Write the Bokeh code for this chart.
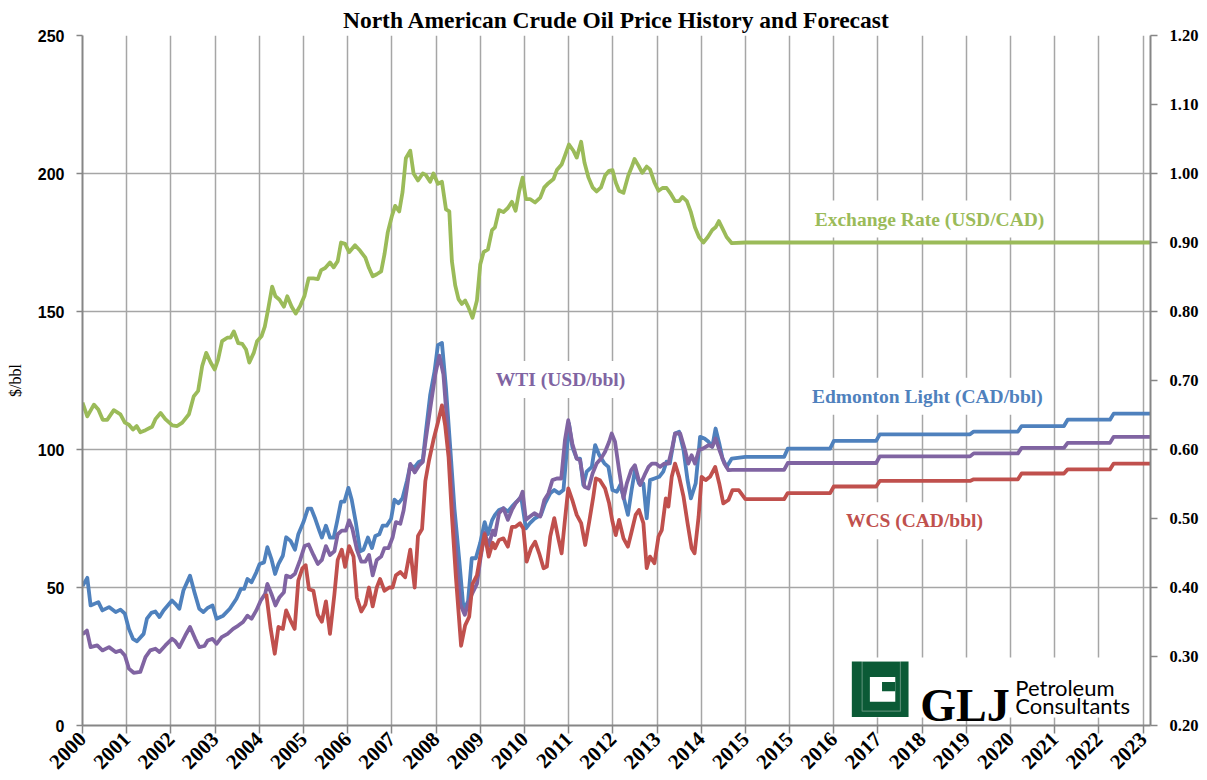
import math
from bokeh.plotting import figure
from bokeh.models import (Range1d, LinearAxis, FixedTicker, PrintfTickFormatter,
                          Label, BoxAnnotation)
from bokeh.embed import file_html
from bokeh.resources import INLINE

# ---------------- data ----------------
TITLE = "North American Crude Oil Price History and Forecast"
x_tick_labels = ["2000", "2001", "2002", "2003", "2004", "2005", "2006", "2007",
                 "2008", "2009", "2010", "2011", "2012", "2013", "2014", "2015",
                 "2015", "2016", "2017", "2018", "2019", "2020", "2021", "2022", "2023"]
months_per_label = 12

# history: x = month index from the first point, y = value
fx_hist_x = [0, 1.3, 3.1, 4.3, 5.5, 6.7, 8.5, 10.3, 11.5, 12.6, 13.7, 14.7, 15.7, 17.1, 18.9,
             19.8, 21.2, 22.5, 24.4, 25.7, 27.1, 28.9, 30.2, 31.4, 32.5, 33.6, 34.8, 35.9, 36.8,
             37.9, 39.3, 40.2, 41.1, 42.3, 43.4, 44.4, 45.3, 46.5, 47.4, 48.6, 49.5, 50.4, 51.5,
             52.4, 53.5, 54.7, 55.6, 56.8, 57.9, 59.1, 60.3, 61.4, 62.7, 63.9, 64.8, 65.9, 67.2,
             68.2, 69.3, 70.2, 71.3, 72.4, 74.0, 75.4, 76.8, 77.8, 78.8, 79.9, 81.1, 82.0, 82.9,
             84.0, 84.9, 86.0, 86.9, 87.8, 89.0, 89.9, 91.1, 92.4, 93.2, 94.4, 95.3, 96.5, 97.6,
             98.7, 99.6, 100.3, 101.2, 102.1, 103.0, 103.9, 104.8, 105.9, 107.1, 108.0, 108.9,
             110.1, 111.2, 112.0, 113.1, 114.3, 115.5, 116.6, 117.6, 118.6, 119.5, 120.4, 121.5,
             122.9, 124.3, 125.4, 126.5, 127.9, 128.8, 130.1, 131.0, 132.1, 133.3, 134.2, 135.4,
             136.3, 137.4, 138.5, 139.6, 140.8, 141.9, 143.0, 143.9, 144.8, 145.7, 146.9, 148.2,
             149.1, 149.9, 151.0, 152.0, 153.2, 154.1, 155.3, 156.4, 157.5, 158.6, 159.8, 160.9,
             162.0, 162.9, 164.1, 165.2, 166.3, 167.4, 168.6, 169.8, 171.0, 171.9, 172.8, 173.8,
             174.9, 176.3]
fx_hist_y = [0.668, 0.648, 0.665, 0.658, 0.643, 0.643, 0.657, 0.651, 0.639, 0.636, 0.629, 0.634,
             0.625, 0.628, 0.633, 0.644, 0.653, 0.644, 0.635, 0.634, 0.639, 0.651, 0.677, 0.685,
             0.721, 0.740, 0.726, 0.716, 0.730, 0.757, 0.762, 0.762, 0.771, 0.754, 0.753, 0.745,
             0.726, 0.740, 0.757, 0.764, 0.778, 0.803, 0.836, 0.822, 0.817, 0.807, 0.822, 0.807,
             0.797, 0.808, 0.823, 0.848, 0.848, 0.847, 0.860, 0.863, 0.871, 0.864, 0.873, 0.900,
             0.898, 0.886, 0.896, 0.888, 0.878, 0.863, 0.851, 0.854, 0.858, 0.883, 0.915, 0.938,
             0.953, 0.945, 0.973, 1.022, 1.033, 1.000, 0.990, 1.000, 0.998, 0.988, 1.000, 0.985,
             0.988, 0.948, 0.945, 0.873, 0.838, 0.818, 0.811, 0.816, 0.806, 0.791, 0.816, 0.868,
             0.886, 0.890, 0.918, 0.922, 0.947, 0.944, 0.950, 0.959, 0.946, 0.975, 0.994, 0.963,
             0.963, 0.958, 0.965, 0.980, 0.986, 0.992, 1.005, 1.013, 1.026, 1.042, 1.033, 1.023,
             1.046, 1.016, 0.994, 0.980, 0.974, 0.980, 0.997, 1.004, 1.005, 0.987, 0.975, 0.972,
             0.997, 1.009, 1.021, 1.011, 1.001, 1.010, 1.006, 0.987, 0.975, 0.979, 0.979, 0.970,
             0.960, 0.960, 0.966, 0.960, 0.944, 0.922, 0.908, 0.900, 0.908, 0.918, 0.922, 0.931,
             0.920, 0.908, 0.899]

edm_hist_x = [0, 1.3, 2.2, 4.3, 5.4, 7.2, 9.0, 10.3, 11.5, 12.6, 13.7, 14.8, 16.6, 17.5, 18.7,
              19.8, 20.9, 22.0, 24.3, 25.2, 26.3, 27.4, 29.2, 30.4, 31.7, 32.8, 34.0, 35.3, 36.4,
              38.2, 40.0, 41.8, 43.0, 43.9, 44.8, 45.9, 47.2, 48.1, 49.3, 50.2, 51.3, 52.3, 53.2,
              54.4, 55.3, 56.5, 57.7, 58.6, 60.0, 61.2, 62.1, 63.2, 64.3, 65.0, 66.1, 67.2, 68.2,
              69.1, 70.2, 71.1, 72.2, 73.1, 74.2, 75.4, 76.3, 77.5, 78.6, 79.5, 80.6, 81.5, 82.6,
              83.8, 84.7, 85.8, 86.9, 88.1, 89.0, 90.2, 91.3, 92.4, 93.2, 94.4, 95.6, 96.5, 97.6,
              98.7, 99.9, 101.0, 102.3, 103.5, 104.7, 105.7, 106.8, 108.0, 109.2, 110.1, 111.2,
              112.0, 113.1, 114.3, 115.5, 116.6, 117.9, 119.1, 120.4, 121.5, 122.9, 124.5, 125.6,
              127.0, 128.1, 129.4, 130.6, 131.5, 132.1, 133.0, 134.2, 135.1, 136.0, 136.9, 138.3,
              139.2, 140.3, 141.7, 142.8, 143.9, 145.1, 146.0, 146.9, 148.1, 149.1, 150.0, 151.1,
              152.3, 153.2, 154.1, 155.3, 156.6, 157.7, 158.6, 159.5, 160.9, 162.0, 163.2, 164.3,
              165.2, 166.5, 167.7, 168.9, 170.0, 171.0, 171.9, 172.9, 173.8, 174.9, 176.3]
edm_hist_y = [50.5, 53.5, 43.5, 44.7, 41.7, 42.9, 41.1, 42.0, 40.5, 35.0, 31.4, 30.5, 33.2, 38.7,
              40.8, 41.3, 39.3, 41.7, 45.3, 44.1, 42.3, 48.9, 54.3, 48.3, 42.3, 41.1, 42.6, 43.5,
              38.7, 39.8, 42.3, 45.9, 49.5, 49.5, 53.1, 51.9, 55.5, 58.5, 59.1, 64.6, 60.3, 54.9,
              58.5, 61.5, 68.2, 66.9, 63.7, 69.3, 73.7, 78.6, 78.6, 74.9, 70.6, 68.1, 72.4, 68.1,
              68.1, 73.7, 81.1, 81.1, 86.1, 81.8, 73.7, 63.1, 63.7, 68.1, 64.3, 68.7, 69.3, 72.4,
              72.4, 74.9, 81.8, 80.5, 82.4, 88.6, 94.2, 93.6, 95.5, 96.1, 106.0, 119.7, 128.4,
              137.8, 138.6, 122.2, 99.8, 78.6, 60.0, 41.5, 45.1, 60.6, 60.6, 66.2, 73.7, 69.3,
              74.3, 76.3, 78.1, 78.7, 77.5, 79.3, 81.1, 82.9, 71.4, 73.3, 75.1, 76.3, 80.5, 84.1,
              85.3, 84.1, 85.3, 99.8, 109.4, 101.0, 96.7, 96.7, 87.1, 92.0, 93.7, 101.6, 98.0,
              95.0, 93.7, 85.3, 84.7, 87.1, 82.9, 76.3, 85.3, 92.5, 87.7, 87.7, 75.1, 88.9, 89.5,
              90.1, 92.0, 95.6, 95.0, 105.8, 106.4, 99.8, 88.9, 82.3, 87.7, 104.6, 104.0, 102.8,
              101.0, 107.6, 102.2, 96.7, 93.7, 96.7]

wti_hist_x = [0, 1.2, 2.2, 4.0, 5.4, 7.2, 9.0, 10.3, 11.5, 12.6, 13.9, 15.7, 17.1, 18.4, 19.8,
              20.9, 22.5, 24.3, 25.2, 26.3, 27.9, 29.2, 30.6, 31.7, 33.1, 34.0, 35.3, 36.4, 37.8,
              39.4, 40.9, 42.3, 43.6, 44.8, 45.9, 47.2, 48.4, 49.6, 50.2, 51.3, 52.4, 53.5, 54.7,
              55.3, 56.5, 57.7, 59.1, 60.3, 61.4, 62.7, 63.9, 65.0, 66.1, 67.2, 68.4, 69.3, 70.4,
              71.5, 72.4, 73.3, 74.5, 75.7, 76.8, 77.8, 78.8, 79.9, 81.1, 82.0, 83.1, 84.2, 85.1,
              86.3, 87.2, 88.1, 89.0, 90.2, 91.4, 92.4, 93.2, 94.4, 95.8, 96.9, 98.0, 99.2, 100.3,
              101.4, 102.6, 103.8, 104.8, 105.7, 107.1, 108.0, 109.2, 110.3, 111.4, 112.0, 113.1,
              114.3, 115.5, 116.6, 117.6, 118.8, 119.5, 120.4, 121.5, 122.7, 124.3, 125.4, 126.5,
              127.6, 128.8, 130.0, 131.0, 131.9, 133.0, 134.2, 135.1, 136.3, 137.4, 138.5, 139.6,
              140.8, 141.9, 143.0, 143.7, 144.6, 145.7, 146.9, 147.8, 149.0, 150.0, 151.4, 152.6,
              153.7, 154.6, 155.7, 156.8, 158.0, 159.1, 160.0, 160.9, 162.3, 163.6, 164.5, 165.4,
              166.3, 167.4, 168.6, 170.0, 171.0, 171.9, 173.1, 174.3, 175.4, 176.5]
wti_hist_y = [33.0, 34.4, 28.4, 29.0, 27.2, 28.4, 26.6, 27.2, 25.4, 20.6, 19.1, 19.4, 24.8, 27.2,
              27.8, 26.6, 29.0, 31.4, 30.5, 28.4, 32.6, 35.7, 31.4, 28.4, 28.8, 30.8, 31.4, 29.6,
              32.0, 33.2, 35.0, 36.2, 37.5, 39.8, 38.7, 41.7, 45.3, 47.7, 51.3, 47.7, 43.5, 46.5,
              48.3, 54.3, 53.7, 55.0, 60.0, 65.0, 65.6, 61.8, 58.5, 60.0, 65.0, 61.8, 63.1, 69.3,
              70.6, 70.6, 74.3, 71.2, 63.7, 59.4, 59.4, 61.8, 54.4, 60.0, 61.2, 64.3, 64.3, 68.1,
              73.7, 73.1, 78.0, 86.1, 94.8, 91.7, 94.2, 95.5, 103.5, 114.7, 127.2, 134.0, 127.2,
              106.0, 84.9, 62.5, 43.8, 40.1, 44.4, 47.5, 51.3, 60.0, 69.9, 65.0, 70.6, 69.0, 76.9,
              78.7, 74.5, 78.1, 80.5, 82.3, 84.7, 74.5, 75.7, 76.9, 75.7, 81.7, 84.1, 88.9, 89.5,
              89.5, 103.4, 110.6, 102.2, 96.7, 96.1, 86.5, 85.9, 91.3, 94.9, 96.7, 99.2, 102.8,
              105.8, 102.8, 92.5, 82.3, 87.7, 92.5, 94.3, 87.1, 90.7, 93.7, 94.9, 94.9, 93.7, 94.9,
              94.9, 99.8, 105.8, 105.8, 99.8, 94.9, 97.9, 94.9, 99.8, 100.4, 101.6, 101.0, 104.0,
              99.2, 94.9, 92.5, 92.6]

wcs_hist_x = [49.9, 51.1, 52.2, 53.2, 54.4, 55.3, 56.5, 57.6, 58.6, 59.7, 60.6, 61.5, 62.7, 63.9,
              65.0, 66.1, 67.2, 68.4, 69.3, 70.4, 71.3, 72.4, 73.6, 74.5, 75.7, 76.8, 77.8, 78.8,
              79.9, 80.8, 82.0, 83.3, 84.2, 85.1, 86.3, 87.6, 89.0, 90.2, 91.1, 92.2, 93.1, 94.1,
              95.3, 96.5, 97.6, 98.5, 99.4, 100.3, 101.4, 102.1, 102.8, 103.9, 105.0, 105.9, 107.1,
              108.0, 109.2, 110.3, 111.4, 112.0, 113.1, 114.3, 115.5, 116.6, 117.6, 118.8, 119.7,
              120.6, 121.8, 122.9, 124.0, 125.2, 126.1, 127.0, 128.1, 129.2, 130.1, 131.0, 131.9,
              133.0, 134.2, 135.4, 136.5, 137.6, 138.7, 139.4, 140.5, 141.9, 143.0, 143.9, 144.8,
              145.7, 146.9, 148.1, 149.1, 150.2, 151.1, 152.3, 153.2, 154.1, 155.3, 156.4, 157.3,
              158.4, 159.1, 160.0, 160.9, 162.0, 163.2, 164.3, 165.4, 166.2, 167.3, 168.1, 169.2,
              170.4, 171.8, 172.9, 174.0, 175.4, 176.5, 178.2]
wcs_hist_y = [47.7, 35.0, 26.0, 35.7, 35.0, 41.7, 38.0, 35.0, 52.5, 56.9, 58.1, 49.4, 48.8, 40.1,
              37.6, 45.0, 33.2, 47.5, 60.0, 63.7, 57.5, 65.0, 61.2, 46.3, 41.3, 43.8, 50.0, 43.2,
              50.0, 53.1, 48.8, 50.0, 50.0, 54.4, 55.6, 53.7, 63.7, 50.0, 68.7, 71.2, 88.6, 96.1,
              103.5, 109.8, 116.0, 108.5, 97.3, 76.2, 53.7, 41.3, 28.9, 36.3, 39.4, 51.3, 54.4,
              61.2, 69.3, 61.2, 66.2, 64.2, 67.2, 67.8, 64.8, 72.0, 72.0, 73.3, 71.4, 59.4, 64.2,
              66.6, 62.4, 57.0, 57.6, 68.4, 75.1, 67.8, 62.4, 74.5, 85.9, 81.7, 76.3, 73.3, 65.4,
              73.9, 82.9, 89.5, 88.9, 85.9, 80.5, 73.9, 69.0, 74.5, 67.8, 64.8, 70.2, 76.3, 78.1,
              73.3, 57.0, 61.2, 58.8, 68.4, 70.8, 82.3, 79.3, 90.1, 94.9, 90.1, 82.9, 73.3, 64.2,
              62.4, 75.7, 90.1, 88.9, 90.1, 93.7, 87.7, 80.5, 81.7, 85.3, 85.3]

# forecast: period start (month index) and value per period
fc_start = [180, 191.5, 204, 216.5, 242, 255, 267.5, 280]
fc_end = 290
fx_fc = [0.90, 0.90, 0.90, 0.90, 0.90, 0.90, 0.90, 0.90]
edm_fc = [97.3, 100.3, 103.1, 105.5, 106.5, 108.5, 110.8, 113.0]
wti_fc = [92.6, 95.1, 95.1, 97.5, 98.6, 100.6, 102.4, 104.6]
wcs_fc = [82.0, 84.2, 86.6, 88.6, 89.2, 91.3, 92.8, 94.9]

GREEN, BLUE, PURPLE, RED = "#9BBB59", "#4F81BD", "#8064A2", "#C0504D"
SERIF = "Liberation Serif"
SANS = "Liberation Sans"
GRID = "#a6a6a6"
AXIS = "#868686"
LW = 3.8


def step_series(starts, vals, end, ramp=1.0):
    xs, ys = [], []
    for j, v in enumerate(vals):
        xs.append(starts[j])
        ys.append(v)
        xs.append(starts[j + 1] - ramp if j + 1 < len(starts) else end)
        ys.append(v)
    return xs, ys


x_ticks = [i * months_per_label for i in range(len(x_tick_labels))]

W, H = 1205, 778
p = figure(width=W, height=H, x_range=Range1d(0, fc_end), y_range=Range1d(0, 250),
           output_backend="svg", toolbar_location=None,
           min_border_left=82, min_border_right=W - 1150, min_border_top=35,
           min_border_bottom=H - 727)
p.extra_y_ranges = {"rate": Range1d(0.2, 1.2)}
p.outline_line_color = None
p.background_fill_color = "white"
p.border_fill_color = "white"

p.title.text = TITLE
p.title.align = "center"
p.title.text_font = SERIF
p.title.text_font_style = "bold"
p.title.text_font_size = "23.5px"
p.title.text_color = "black"
p.title.standoff = 6
p.title.offset = 5

# x axis
xa = p.xaxis[0]
xa.ticker = FixedTicker(ticks=x_ticks)
xa.major_label_overrides = {t: lab for t, lab in zip(x_ticks, x_tick_labels)}
xa.major_label_orientation = math.pi / 4
xa.major_label_text_font = SERIF
xa.major_label_text_font_style = "bold"
xa.major_label_text_font_size = "21px"
xa.major_label_text_color = "black"
xa.major_label_standoff = 2
xa.axis_line_color = AXIS
xa.axis_line_width = 2
xa.major_tick_line_color = AXIS
xa.major_tick_line_width = 1.5
xa.major_tick_out = 8
xa.major_tick_in = 0
xa.minor_tick_line_color = None

# left axis
ya = p.yaxis[0]
ya.ticker = FixedTicker(ticks=[0, 50, 100, 150, 200, 250])
ya.major_label_text_font = SANS
ya.major_label_text_font_style = "bold"
ya.major_label_text_font_size = "16px"
ya.major_label_text_color = "black"
ya.major_label_standoff = 12
ya.axis_line_color = AXIS
ya.axis_line_width = 2
ya.major_tick_line_color = AXIS
ya.major_tick_line_width = 1.5
ya.major_tick_out = 6
ya.major_tick_in = 0
ya.minor_tick_line_color = None
ya.axis_label = "$/bbl"
ya.axis_label_text_font = SERIF
ya.axis_label_text_font_style = "normal"
ya.axis_label_text_font_size = "16px"
ya.axis_label_text_color = "black"
ya.axis_label_standoff = 11

# right axis
ra = LinearAxis(y_range_name="rate",
                ticker=FixedTicker(ticks=[0.2, 0.3, 0.4, 0.5, 0.6, 0.7, 0.8, 0.9, 1.0, 1.1, 1.2]),
                formatter=PrintfTickFormatter(format="%.2f"))
ra.major_label_text_font = SERIF
ra.major_label_text_font_style = "bold"
ra.major_label_text_font_size = "16.5px"
ra.major_label_text_color = "black"
ra.major_label_standoff = 12
ra.axis_line_color = AXIS
ra.axis_line_width = 2
ra.major_tick_line_color = AXIS
ra.major_tick_line_width = 1.5
ra.major_tick_out = 7
ra.major_tick_in = 0
ra.minor_tick_line_color = None
p.add_layout(ra, "right")

# grids
p.xgrid[0].ticker = FixedTicker(ticks=x_ticks)
p.ygrid[0].ticker = FixedTicker(ticks=[0, 50, 100, 150, 200, 250])
for g in (p.xgrid[0], p.ygrid[0]):
    g.grid_line_color = GRID
    g.grid_line_width = 1.5

# series
def full(hx, hy, fc_vals):
    fx, fy = step_series(fc_start, fc_vals, fc_end)
    return hx + fx, hy + fy

gx, gy = full(fx_hist_x, fx_hist_y, fx_fc)
p.line(gx, gy, y_range_name="rate", line_color=GREEN, line_width=LW, line_join="round")
bx, by = full(edm_hist_x, edm_hist_y, edm_fc)
p.line(bx, by, line_color=BLUE, line_width=LW, line_join="round")
wx, wy = full(wti_hist_x, wti_hist_y, wti_fc)
p.line(wx, wy, line_color=PURPLE, line_width=LW, line_join="round")
cx, cy = full(wcs_hist_x, wcs_hist_y, wcs_fc)
p.line(cx, cy, line_color=RED, line_width=LW, line_join="round")

# series labels
def series_label(x, y, text, color):
    p.add_layout(Label(x=x, y=y, text=text, text_align="center", text_baseline="middle",
                       text_font=SERIF, text_font_style="bold", text_font_size="19.5px",
                       text_color=color, background_fill_color="white",
                       background_fill_alpha=1.0, padding=8))

series_label(230, 183.5, "Exchange Rate (USD/CAD)", GREEN)
series_label(229.4, 119.3, "Edmonton Light (CAD/bbl)", BLUE)
series_label(129.8, 125.4, "WTI (USD/bbl)", PURPLE)
series_label(225.9, 74.2, "WCS (CAD/bbl)", RED)

# GLJ logo
LOGO_GREEN = "#0b5a36"
def box(l, r, b, t, fill=None, line=None, lw=1.5):
    p.add_layout(BoxAnnotation(left=l, right=r, bottom=b, top=t,
                               fill_color=fill if fill else "white",
                               fill_alpha=1.0 if fill else 0.0,
                               line_color=line, line_width=lw, level="annotation"))

box(207.2, 287.5, 2.9, 24.6, fill="white")
box(208.9, 224.3, 3.1, 23.2, fill=LOGO_GREEN)
box(211.7, 222.1, 5.2, 23.4, line="white", lw=1.2)
box(213.8, 220.7, 8.6, 17.6, fill="white")
box(217.1, 220.7, 12.4, 15.8, fill=LOGO_GREEN)
p.add_layout(Label(x=227.5, y=7.4, text="GLJ", text_font=SERIF, text_font_style="bold",
                   text_font_size="46px", text_color="black", text_baseline="alphabetic"))
p.add_layout(Label(x=253.3, y=13.6, text="Petroleum", text_font="Lato",
                   text_font_size="22px", text_color="black", text_baseline="alphabetic"))
p.add_layout(Label(x=253.3, y=7.2, text="Consultants", text_font="Lato",
                   text_font_size="22px", text_color="black", text_baseline="alphabetic"))

open("out.html", "w").write(file_html(p, INLINE))
